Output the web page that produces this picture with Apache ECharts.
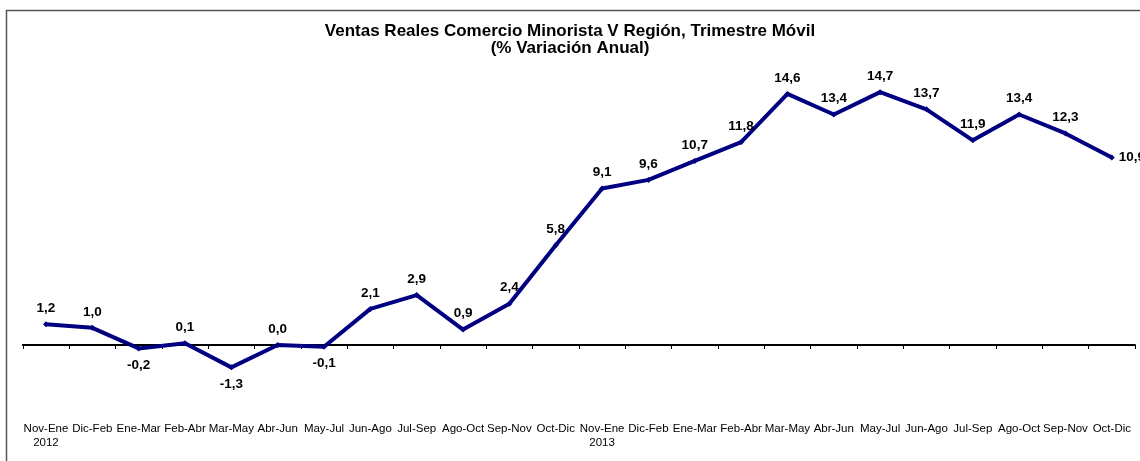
<!DOCTYPE html>
<html>
<head>
<meta charset="utf-8">
<script src="https://cdn.jsdelivr.net/npm/echarts@6/dist/echarts.min.js"></script>
<style>
html,body{margin:0;padding:0;background:#fff;}
#chart{width:1140px;height:461px;}
</style>
</head>
<body>
<div id="chart"></div>
<script>
const categories = ["Nov-Ene\n2012","Dic-Feb","Ene-Mar","Feb-Abr","Mar-May","Abr-Jun","May-Jul","Jun-Ago","Jul-Sep","Ago-Oct","Sep-Nov","Oct-Dic","Nov-Ene\n2013","Dic-Feb","Ene-Mar","Feb-Abr","Mar-May","Abr-Jun","May-Jul","Jun-Ago","Jul-Sep","Ago-Oct","Sep-Nov","Oct-Dic"];
const values = [1.2,1.0,-0.2,0.1,-1.3,0.0,-0.1,2.1,2.9,0.9,2.4,5.8,9.1,9.6,10.7,11.8,14.6,13.4,14.7,13.7,11.9,13.4,12.3,10.9];
const titleText = "Ventas Reales Comercio Minorista V Región, Trimestre Móvil\n(% Variación Anual)";

const FONT = "'Liberation Sans', Arial, sans-serif";
const seriesData = values.map(function(v, i){
  const d = {value: v};
  if (v < 0) {
    d.label = {position: 'bottom', distance: 7};
  }
  if (i === values.length - 1) {
    d.label = {position: 'right', distance: 4, offset: [0, -8]};
  }
  return d;
});

const chart = echarts.init(document.getElementById('chart'), null, {renderer: 'canvas'});
chart.setOption({
  backgroundColor: '#ffffff',
  animation: false,
  graphic: [{
    type: 'rect',
    shape: {x: 6.5, y: 10.5, width: 1300, height: 600},
    style: {fill: 'none', stroke: '#555555', lineWidth: 1.5},
    silent: true,
    z: -1
  }],
  title: {
    text: titleText,
    left: 'center',
    top: 17.5,
    padding: 5,
    textStyle: {fontFamily: FONT, fontSize: 17, fontWeight: 'bold', color: '#000', lineHeight: 17}
  },
  grid: {left: 22.8, right: 5, top: 87, bottom: 47.2, containLabel: false, outerBoundsMode: 'none'},
  xAxis: [{
    type: 'category',
    data: categories,
    boundaryGap: true,
    axisLine: {show: true, onZero: true, lineStyle: {color: '#000', width: 2}},
    axisTick: {show: true, interval: 0, length: 4, lineStyle: {color: '#000', width: 1}},
    axisLabel: {show: false}
  }, {
    type: 'category',
    data: categories,
    boundaryGap: true,
    position: 'bottom',
    axisLine: {show: false, onZero: false},
    axisTick: {show: false},
    axisLabel: {interval: 0, margin: 8, fontFamily: FONT, fontSize: 11.5, color: '#000', lineHeight: 14, hideOverlap: false}
  }],
  yAxis: {
    type: 'value',
    min: -4,
    max: 15,
    show: false,
    splitLine: {show: false}
  },
  series: [{
    type: 'line',
    xAxisIndex: 0,
    data: seriesData,
    lineStyle: {color: '#000080', width: 4},
    itemStyle: {color: '#000080'},
    symbol: 'diamond',
    symbolSize: 6,
    showSymbol: true,
    label: {
      show: true,
      position: 'top',
      distance: 6,
      fontFamily: FONT,
      fontSize: 13.5,
      fontWeight: 'bold',
      color: '#000',
      formatter: function(p){ return p.value.toFixed(1).replace('.', ','); }
    },
    labelLayout: {hideOverlap: false}
  }]
});
</script>
</body>
</html>
